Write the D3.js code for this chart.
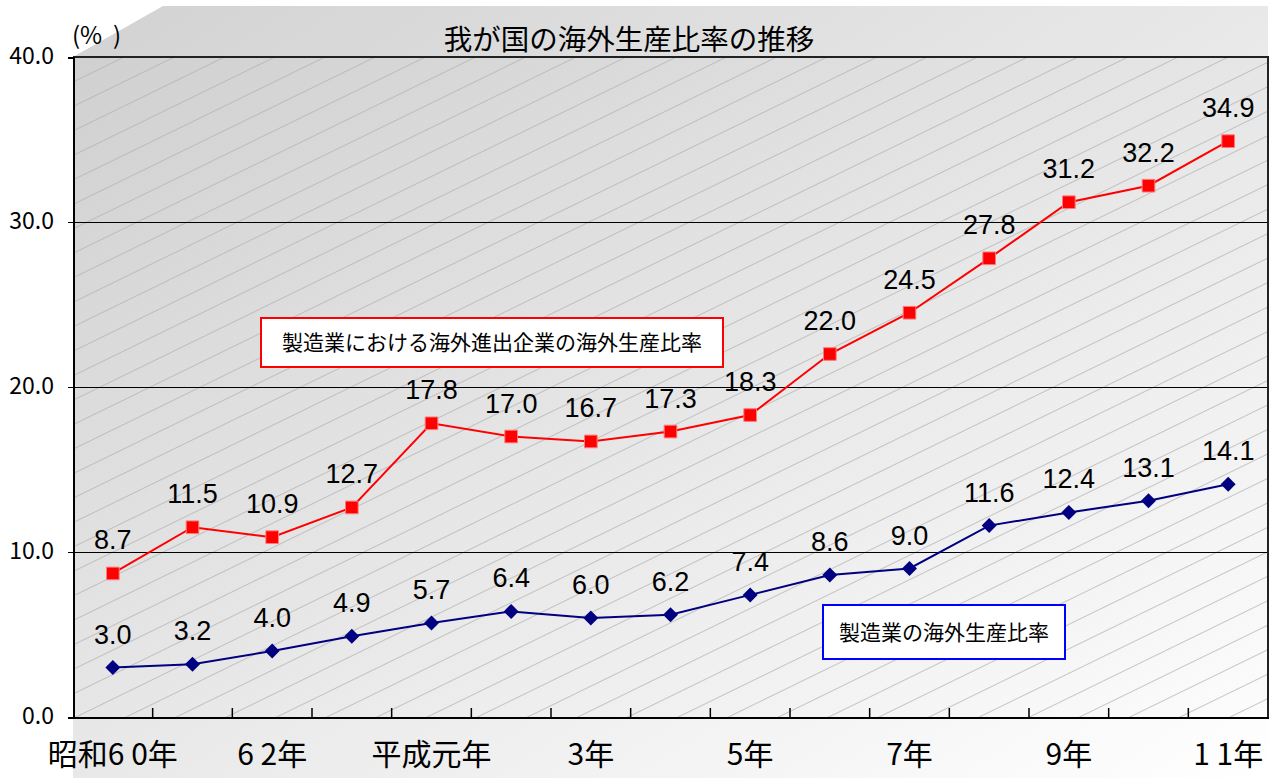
<!DOCTYPE html>
<html>
<head>
<meta charset="utf-8">
<script src="https://cdn.jsdelivr.net/npm/d3@7"></script>
<style>
    body { margin: 0; background: #ffffff; }
    svg { display: block; }
    .jp { font-family: "Noto Sans CJK JP", "Noto Sans", sans-serif; }
    .num { font-family: "Liberation Sans", Arial, sans-serif; }
</style>
</head>
<body>
<svg id="chart" width="1275" height="778"></svg>
<script>
// years on the category axis (only every other one is labelled)
const years = ['昭和6 0年', '61年', '6 2年', '63年', '平成元年', '2年', '3年', '4年', '5年', '6年', '7年', '8年', '9年', '10年', '1 1年'];
const shownYears = ['昭和6 0年', '6 2年', '平成元年', '3年', '5年', '7年', '9年', '1 1年'];

// 海外進出企業ベース / 製造業全体
const overseasFirms = [8.7, 11.5, 10.9, 12.7, 17.8, 17.0, 16.7, 17.3, 18.3, 22.0, 24.5, 27.8, 31.2, 32.2, 34.9];
const allManufacturing = [3.0, 3.2, 4.0, 4.9, 5.7, 6.4, 6.0, 6.2, 7.4, 8.6, 9.0, 11.6, 12.4, 13.1, 14.1];

const yTicks = [0, 10, 20, 30, 40];

(function () {

    const svg = d3.select('#chart');
    const margin = { top: 57, right: 7, bottom: 61, left: 73 };
    const width = 1275 - margin.left - margin.right;
    const height = 778 - margin.top - margin.bottom;

    const defs = svg.append('defs');

    const addGradient = (id, from, to) => {
        const g = defs.append('linearGradient')
            .attr('id', id)
            .attr('x1', 0).attr('y1', 0)
            .attr('x2', 1).attr('y2', 1);
        g.append('stop').attr('offset', '0%').attr('stop-color', from);
        g.append('stop').attr('offset', '100%').attr('stop-color', to);
    };

    addGradient('panelFill', '#d2d2d2', '#ffffff');
    addGradient('plotFill', '#d0d0d0', '#fcfcfc');

    const hatch = defs.append('pattern')
        .attr('id', 'hatch')
        .attr('patternUnits', 'userSpaceOnUse')
        .attr('width', 40)
        .attr('height', 22)
        .attr('patternTransform', 'rotate(-26)');

    hatch.append('line')
        .attr('x1', 0).attr('x2', 40)
        .attr('y1', 0.5).attr('y2', 0.5)
        .attr('stroke', '#b0b0b0')
        .attr('stroke-width', 0.7);

    // background wall with the cut corner
    svg.append('path')
        .attr('d', `M${margin.left},${margin.top} L163,6 L${margin.left + width},6 L${margin.left + width},778 L${margin.left},778 Z`)
        .attr('fill', 'url(#panelFill)');

    const root = svg.append('g')
        .attr('transform', `translate(${margin.left},${margin.top})`);

    const x = d3.scaleBand()
        .domain(years)
        .range([0, width])
        .padding(0);

    const y = d3.scaleLinear()
        .domain([0, 40])
        .range([height, 0]);

    const cx = (d, i) => x(years[i]) + x.bandwidth() / 2;

    root.append('rect')
        .attr('width', width)
        .attr('height', height)
        .attr('fill', 'url(#plotFill)');

    root.append('rect')
        .attr('width', width)
        .attr('height', height)
        .attr('fill', 'url(#hatch)');

    // gridlines
    root.append('g')
        .selectAll('line')
        .data(yTicks.slice(1, -1))
        .join('line')
        .attr('x1', 0)
        .attr('x2', width)
        .attr('y1', (d) => y(d) + 0.5)
        .attr('y2', (d) => y(d) + 0.5)
        .attr('stroke', '#000')
        .attr('stroke-width', 1)
        .attr('shape-rendering', 'crispEdges');

    // top / right frame
    root.append('path')
        .attr('d', `M0,0 H${width} V${height}`)
        .attr('fill', 'none')
        .attr('stroke', '#222')
        .attr('stroke-width', 2)
        .attr('shape-rendering', 'crispEdges');

    // y axis
    const yAxis = root.append('g')
        .attr('class', 'jp')
        .call(d3.axisLeft(y)
            .tickValues(yTicks)
            .tickFormat(d3.format('.1f'))
            .tickSize(5)
            .tickPadding(14));

    yAxis.select('.domain')
        .attr('stroke', '#000')
        .attr('stroke-width', 2)
        .attr('shape-rendering', 'crispEdges');
    yAxis.selectAll('.tick text')
        .attr('font-size', 23)
        .attr('fill', '#000')
        .attr('dy', '0.28em');

    // x axis: labels under the bands, ticks on the band edges
    const xAxis = root.append('g')
        .attr('class', 'jp')
        .attr('transform', `translate(0,${height})`)
        .call(d3.axisBottom(x)
            .tickSize(0)
            .tickPadding(0)
            .tickFormat((d) => shownYears.includes(d) ? d : ''));

    xAxis.select('.domain')
        .attr('stroke', '#000')
        .attr('stroke-width', 2)
        .attr('shape-rendering', 'crispEdges');
    xAxis.selectAll('.tick text')
        .attr('font-size', 30)
        .attr('fill', '#000')
        .attr('dy', null)
        .attr('y', 48);

    xAxis.append('g')
        .selectAll('line')
        .data(years.slice(1))
        .join('line')
        .attr('x1', (d) => x(d))
        .attr('x2', (d) => x(d))
        .attr('y1', 0)
        .attr('y2', -9)
        .attr('stroke', '#000')
        .attr('stroke-width', 1.5);

    // lines
    const line = d3.line()
        .x(cx)
        .y((d) => y(d));

    root.append('path')
        .datum(allManufacturing)
        .attr('d', line)
        .attr('fill', 'none')
        .attr('stroke', '#000080')
        .attr('stroke-width', 2);

    root.append('path')
        .datum(overseasFirms)
        .attr('d', line)
        .attr('fill', 'none')
        .attr('stroke', '#ff0000')
        .attr('stroke-width', 2);

    root.append('g')
        .selectAll('path')
        .data(allManufacturing)
        .join('path')
        .attr('d', d3.symbol(d3.symbolSquare, 112))
        .attr('transform', (d, i) => `translate(${cx(d, i)},${y(d)}) rotate(45)`)
        .attr('fill', '#000080');

    root.append('g')
        .selectAll('path')
        .data(overseasFirms)
        .join('path')
        .attr('d', d3.symbol(d3.symbolSquare, 160))
        .attr('transform', (d, i) => `translate(${cx(d, i)},${y(d)})`)
        .attr('fill', '#ff0000')
        .attr('stroke', '#ff7a7a')
        .attr('stroke-width', 1);

    // value labels
    [allManufacturing, overseasFirms].forEach((series) => {
        root.append('g')
            .attr('class', 'num')
            .selectAll('text')
            .data(series)
            .join('text')
            .attr('x', cx)
            .attr('y', (d) => y(d) - 24)
            .attr('text-anchor', 'middle')
            .attr('font-size', 27)
            .attr('fill', '#000')
            .text((d) => d.toFixed(1));
    });

    // series labels
    const addLegend = (label, color, x0, y0, w, h) => {
        const g = svg.append('g').attr('class', 'jp');
        g.append('rect')
            .attr('x', x0).attr('y', y0)
            .attr('width', w).attr('height', h)
            .attr('fill', '#fff')
            .attr('stroke', color)
            .attr('stroke-width', 2);
        g.append('text')
            .attr('x', x0 + w / 2)
            .attr('y', y0 + h / 2)
            .attr('dy', '0.36em')
            .attr('text-anchor', 'middle')
            .attr('font-size', 21)
            .attr('fill', '#000')
            .text(label);
    };

    addLegend('製造業における海外進出企業の海外生産比率', '#ff0000', 261, 318, 462, 49);
    addLegend('製造業の海外生産比率', '#0000ff', 823, 605, 242, 54);

    // title and unit
    svg.append('text')
        .attr('class', 'jp')
        .attr('x', 629)
        .attr('y', 50)
        .attr('text-anchor', 'middle')
        .attr('font-size', 28.5)
        .attr('fill', '#000')
        .text('我が国の海外生産比率の推移');

    svg.append('text')
        .attr('class', 'jp')
        .attr('x', 72)
        .attr('y', 44)
        .attr('font-size', 24)
        .attr('fill', '#000')
        .attr('xml:space', 'preserve')
        .text('(%  )');

})();
</script>
</body>
</html>
